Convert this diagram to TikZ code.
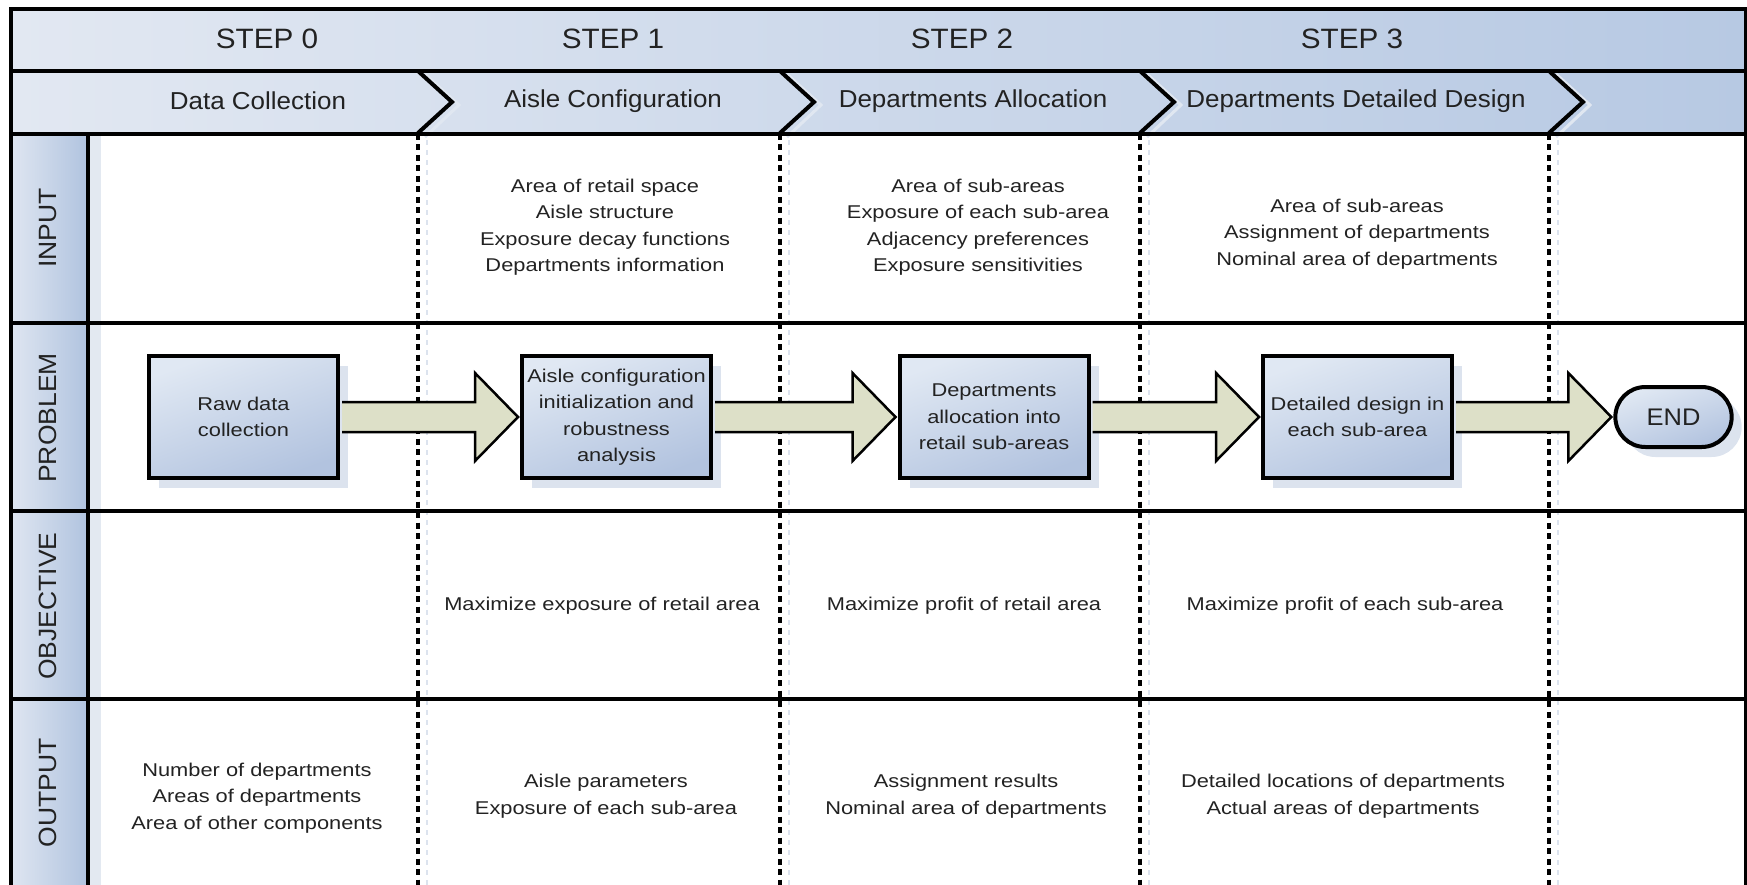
\documentclass[tikz,border=0pt]{standalone}
\usepackage{fontspec}
\setmainfont[FakeStretch=1.18]{Liberation Sans}
\newfontfamily\headfont[FakeStretch=1.06]{Liberation Sans}
\usetikzlibrary{calc}
\usetikzlibrary{shadows}
\usetikzlibrary{shapes.misc}
\definecolor{hdlight}{HTML}{E2E8F2}
\definecolor{hddark}{HTML}{B7C9E3}
\definecolor{lanelight}{HTML}{DFE6F1}
\definecolor{lanedark}{HTML}{B0C3DF}
\definecolor{boxlight}{HTML}{E0E8F3}
\definecolor{boxdark}{HTML}{B2C3DF}
\definecolor{arrowfill}{HTML}{DDE0C8}
\definecolor{shadowblue}{HTML}{DCE3EE}
\definecolor{inkgray}{HTML}{222222}
\tikzset{
  frameline/.style = {line width = 4pt},
  stepline/.style = {line width = 3.5pt, dash pattern = on 6pt off 4.5pt},
  stepshade/.style = {line width = 2pt, shadowblue, dash pattern = on 5pt off 5pt},
  chevron/.style = {line width = 4pt, miter limit = 4},
  chevshade/.style = {line width = 3pt, hdlight!70!shadowblue},
  headtext/.style = {font = \headfont\fontsize{28}{32}\selectfont, text = inkgray},
  phasetext/.style = {font = \headfont\fontsize{24.5}{28}\selectfont, text = inkgray},
  lanetext/.style = {font = \headfont\fontsize{25}{28}\selectfont, text = inkgray, rotate = 90},
  celltext/.style = {font = \fontsize{18.5}{26.5}\selectfont, text = inkgray, align = center, inner sep = 1pt},
  boxshadow/.style = {drop shadow = {shadow xshift = 10pt, shadow yshift = -10pt, fill = shadowblue, opacity = 1}},
  taskbox/.style = {draw, line width = 4pt, minimum width = 189pt, minimum height = 122pt,
    top color = boxlight, bottom color = boxdark, shading angle = 20, celltext, boxshadow},
  endbox/.style = {draw, rounded rectangle, line width = 4pt, minimum width = 123pt, minimum height = 60pt,
    top color = boxlight, bottom color = boxdark, shading angle = 20, boxshadow,
    font = \headfont\fontsize{24}{28}\selectfont, text = inkgray},
  bigarrow/.style = {draw, line width = 2.5pt, fill = arrowfill, miter limit = 4}
}
\newcommand{\bigarrow}[2]{%
  \draw[bigarrow] ($(#1.east) + (2, -15)$) -- ($(#2.west) + (-45, -15)$) -- ($(#2.west) + (-45, -44)$)
    -- ($(#2.west) + (-2, 0)$) -- ($(#2.west) + (-45, 44)$) -- ($(#2.west) + (-45, 15)$) -- ($(#1.east) + (2, 15)$);}
\begin{document}
\begin{tikzpicture}[x = 1pt, y = -1pt]
  \useasboundingbox (0, 0) rectangle (1747, 885);
  \clip (0, 0) rectangle (1747, 885);
  % bands
  \shade[left color = hdlight, right color = hddark] (11, 9) rectangle (1746, 134);
  \shade[left color = lanelight, right color = lanedark] (11, 134) rectangle (88, 900);
  \fill[shadowblue!80] (90, 136) rectangle (101, 900);
  % step boundaries
  \foreach \x in {418, 780, 1140, 1549} {
    \draw[stepshade] (\x + 9, 140) -- (\x + 9, 885);
    \draw[stepline] (\x, 134) -- (\x, 885);
    \draw[chevshade] (\x + 7, 74) -- (\x + 41, 105) -- (\x + 7, 137);
    \draw[chevron] (\x, 71) -- (\x + 34, 102) -- (\x, 133);
  }
  % grid
  \draw[frameline] (11, 900) -- (11, 9) -- (1746, 9) -- (1746, 900);
  \foreach \y in {71, 134, 323, 511, 699}
    \draw[frameline] (11, \y) -- (1746, \y);
  \draw[frameline] (88, 134) -- (88, 900);
  % headers
  \foreach \x/\n in {267/0, 613/1, 962/2, 1352/3}
    \node[headtext] (step\n) at (\x, 39) {STEP \n};
  \node[phasetext] (collect) at (258, 101) {Data Collection};
  \node[phasetext] (config) at (613, 101) {Aisle Configuration};
  \node[phasetext] (allocate) at (973, 101) {Departments Allocation};
  \node[phasetext] (design) at (1356, 101) {Departments Detailed Design};
  % lanes
  \node[lanetext] (input) at (48, 228) {INPUT};
  \node[lanetext] (problem) at (48, 418) {PROBLEM};
  \node[lanetext] (objective) at (48, 606) {OBJECTIVE};
  \node[lanetext] (output) at (48, 793) {OUTPUT};
  % input row
  \node[celltext] (in1) at (605, 227) {Area of retail space\\Aisle structure\\Exposure decay functions\\Departments information};
  \node[celltext] (in2) at (978, 227) {Area of sub-areas\\Exposure of each sub-area\\Adjacency preferences\\Exposure sensitivities};
  \node[celltext] (in3) at (1357, 234) {Area of sub-areas\\Assignment of departments\\Nominal area of departments};
  % problem row
  \node[taskbox] (raw) at (243.5, 417) {Raw data\\collection};
  \node[taskbox] (aisle) at (616.5, 417) {Aisle configuration\\initialization and\\robustness\\analysis};
  \node[taskbox] (alloc) at (994, 417) {Departments\\allocation into\\retail sub-areas};
  \node[taskbox] (detail) at (1357.5, 417) {Detailed design in\\each sub-area};
  \node[endbox] (finish) at (1673.5, 417) {END};
  \bigarrow{raw}{aisle}
  \bigarrow{aisle}{alloc}
  \bigarrow{alloc}{detail}
  \bigarrow{detail}{finish}
  % objective row
  \node[celltext] (obj1) at (602, 606) {Maximize exposure of retail area};
  \node[celltext] (obj2) at (964, 606) {Maximize profit of retail area};
  \node[celltext] (obj3) at (1345, 606) {Maximize profit of each sub-area};
  % output row
  \node[celltext] (out0) at (257, 798) {Number of departments\\Areas of departments\\Area of other components};
  \node[celltext] (out1) at (606, 796) {Aisle parameters\\Exposure of each sub-area};
  \node[celltext] (out2) at (966, 796) {Assignment results\\Nominal area of departments};
  \node[celltext] (out3) at (1343, 796) {Detailed locations of departments\\Actual areas of departments};
\end{tikzpicture}
\end{document}
